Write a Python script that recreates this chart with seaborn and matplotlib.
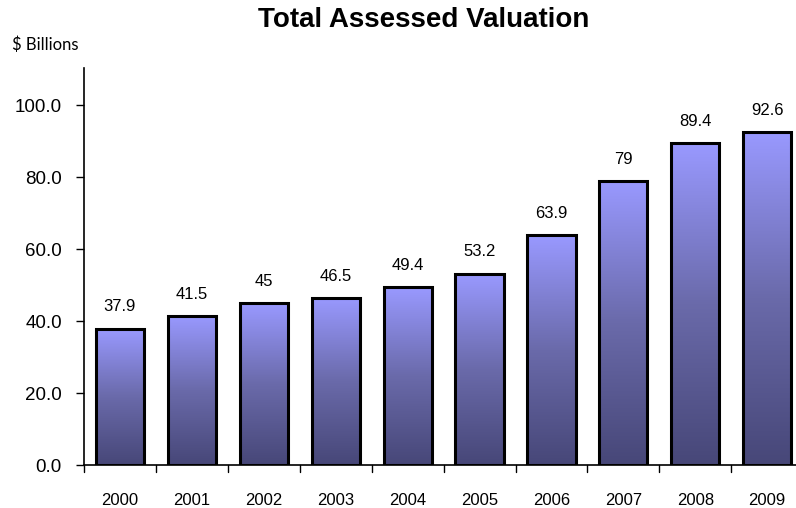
import numpy as np
import pandas as pd
import matplotlib
matplotlib.use("Agg")
import matplotlib.pyplot as plt
import seaborn as sns
from matplotlib.colors import LinearSegmentedColormap

years = ["2000", "2001", "2002", "2003", "2004", "2005", "2006", "2007", "2008", "2009"]
valuation = [37.9, 41.5, 45, 46.5, 49.4, 53.2, 63.9, 79, 89.4, 92.6]
yticks = [0, 20, 40, 60, 80, 100]

sns.set_theme(style="white")
plt.rcParams["font.family"] = ["Liberation Sans", "DejaVu Sans"]
plt.rcParams["text.color"] = "black"
plt.rcParams["xtick.color"] = "black"
plt.rcParams["ytick.color"] = "black"

df = pd.DataFrame({"year": years, "value": valuation})

fig = plt.figure(figsize=(7.96, 5.08), dpi=100)
ax = fig.add_axes([84 / 796, 43 / 508, (796 - 84) / 796, (465 - 68) / 508])

sns.barplot(data=df, x="year", y="value", ax=ax, width=0.67,
            color="#9999ff", edgecolor="black", linewidth=2.2, zorder=3)

# vertical gradient fill inside each bar
cmap = LinearSegmentedColormap.from_list("bar", ["#474778", "#6a6aaa", "#9999ff"])
grad = np.linspace(0, 1, 256).reshape(-1, 1)
for p in ax.patches:
    x0, y0 = p.get_x(), p.get_y()
    w, h = p.get_width(), p.get_height()
    im = ax.imshow(grad, cmap=cmap, origin="lower", aspect="auto",
                   extent=[x0, x0 + w, y0, y0 + h], zorder=2.5)
    im.set_clip_path(p)
    p.set_facecolor("none")

ax.set_xlim(-0.5, 9.40)
ax.set_ylim(0, 110.3)

for i, v in enumerate(valuation):
    ax.text(i, v + 6.0, f"{v:g}", ha="center", va="center", fontsize=12, color="black")

ax.set_yticks(yticks)
ax.set_yticklabels([f"{t:.1f}" for t in yticks], fontsize=13.5)
ax.set_xticks(range(len(years)))
ax.set_xticklabels(years, fontsize=12)
ax.tick_params(axis="x", length=0, pad=20)
ax.tick_params(axis="y", direction="out", length=6, width=1, color="black", pad=10, left=True)

# category boundary tick marks on the x axis
for b in np.arange(-0.5, len(years), 1.0):
    ax.plot([b, b], [0, -1.9], color="black", lw=1, clip_on=False, zorder=4)

for s in ["top", "right"]:
    ax.spines[s].set_visible(False)
for s in ["left", "bottom"]:
    ax.spines[s].set_color("black")
    ax.spines[s].set_linewidth(1.2)

ax.set_xlabel("")
ax.set_ylabel("")

fig.text(424 / 796, 1 - 20 / 508, "Total Assessed Valuation", ha="center", va="center",
         fontsize=20, fontweight="bold")
fig.text(12 / 796, 1 - 45 / 508, "$ Billions", ha="left", va="center", fontsize=12,
         family=["Lato", "DejaVu Sans"])

fig.savefig("out.png", dpi=100)
